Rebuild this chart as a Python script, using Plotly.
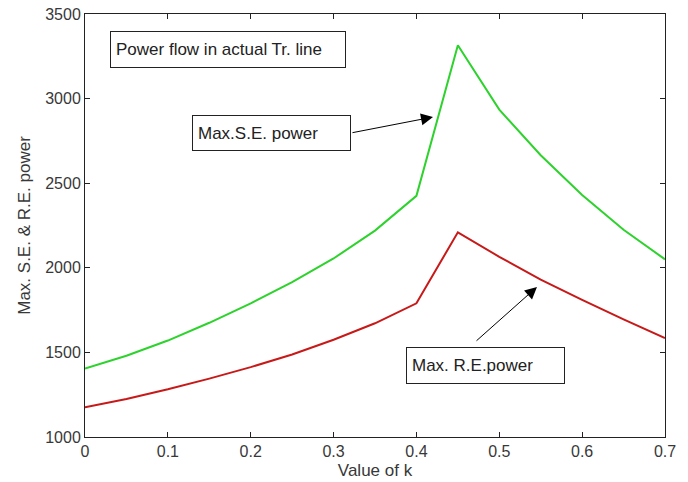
import plotly.graph_objects as go

k_values = [0, 0.05, 0.1, 0.15, 0.2, 0.25, 0.3, 0.35, 0.4, 0.45, 0.5, 0.55, 0.6, 0.65, 0.7]
max_se_power = [1405, 1480, 1570, 1675, 1790, 1915, 2055, 2220, 2425, 3315, 2935, 2665, 2430, 2225, 2050]
max_re_power = [1175, 1225, 1282, 1345, 1413, 1488, 1575, 1672, 1790, 2210, 2065, 1930, 1810, 1695, 1585]

x_ticks = [0, 0.1, 0.2, 0.3, 0.4, 0.5, 0.6, 0.7]
x_tick_labels = ["0", "0.1", "0.2", "0.3", "0.4", "0.5", "0.6", "0.7"]
y_ticks = [1000, 1500, 2000, 2500, 3000, 3500]
y_tick_labels = ["1000", "1500", "2000", "2500", "3000", "3500"]

FONT = "Liberation Sans, Arial, sans-serif"
TXT = "#383838"

fig = go.Figure()
fig.add_trace(go.Scatter(x=k_values, y=max_se_power, mode="lines",
                         line=dict(color="rgb(45,210,45)", width=2), name="Max.S.E. power"))
fig.add_trace(go.Scatter(x=k_values, y=max_re_power, mode="lines",
                         line=dict(color="rgb(200,25,25)", width=2), name="Max. R.E.power"))

axis_common = dict(showline=True, linecolor="#222", linewidth=1, mirror="ticks",
                   ticks="inside", ticklen=5, tickcolor="#222", showgrid=False,
                   zeroline=False, automargin=False,
                   tickfont=dict(family=FONT, size=16, color=TXT))

fig.update_xaxes(range=[0, 0.7], tickvals=x_ticks, ticktext=x_tick_labels,
                 title=dict(text="Value of k", font=dict(family=FONT, size=17, color=TXT), standoff=4),
                 **axis_common)
fig.update_yaxes(range=[1000, 3500], tickvals=y_ticks, ticktext=y_tick_labels,
                 title=dict(text="Max. S.E. & R.E. power", font=dict(family=FONT, size=17, color=TXT), standoff=10),
                 **axis_common)

box = dict(showarrow=False, bordercolor="#222", borderwidth=1, bgcolor="white",
           font=dict(family=FONT, size=17, color="#222"), align="left", xref="x", yref="y")

annotations = [
    dict(text="Power flow in actual Tr. line", x=0.1726, y=3290, width=224, height=25, borderpad=5, **box),
    dict(text="Max.S.E. power", x=0.2251, y=2797, width=147, height=24, borderpad=5, **box),
    dict(text="Max. R.E.power", x=0.4833, y=1423, width=147, height=25, borderpad=5, **box),
    dict(text="", x=0.42, y=2891, ax=0.321, ay=2797, xref="x", yref="y", axref="x", ayref="y",
         showarrow=True, arrowhead=2, arrowsize=2.4, arrowwidth=1, arrowcolor="black"),
    dict(text="", x=0.5455, y=1887, ax=0.4707, ay=1561, xref="x", yref="y", axref="x", ayref="y",
         showarrow=True, arrowhead=2, arrowsize=2.4, arrowwidth=1, arrowcolor="black"),
]
fig.update_layout(annotations=annotations, width=688, height=482, showlegend=False,
                  margin=dict(l=85, r=23, t=14, b=45),
                  paper_bgcolor="white", plot_bgcolor="white")

fig.write_html("out.html", config={"displayModeBar": False},
               post_script="document.body.style.margin='0';document.body.style.overflow='hidden';")
